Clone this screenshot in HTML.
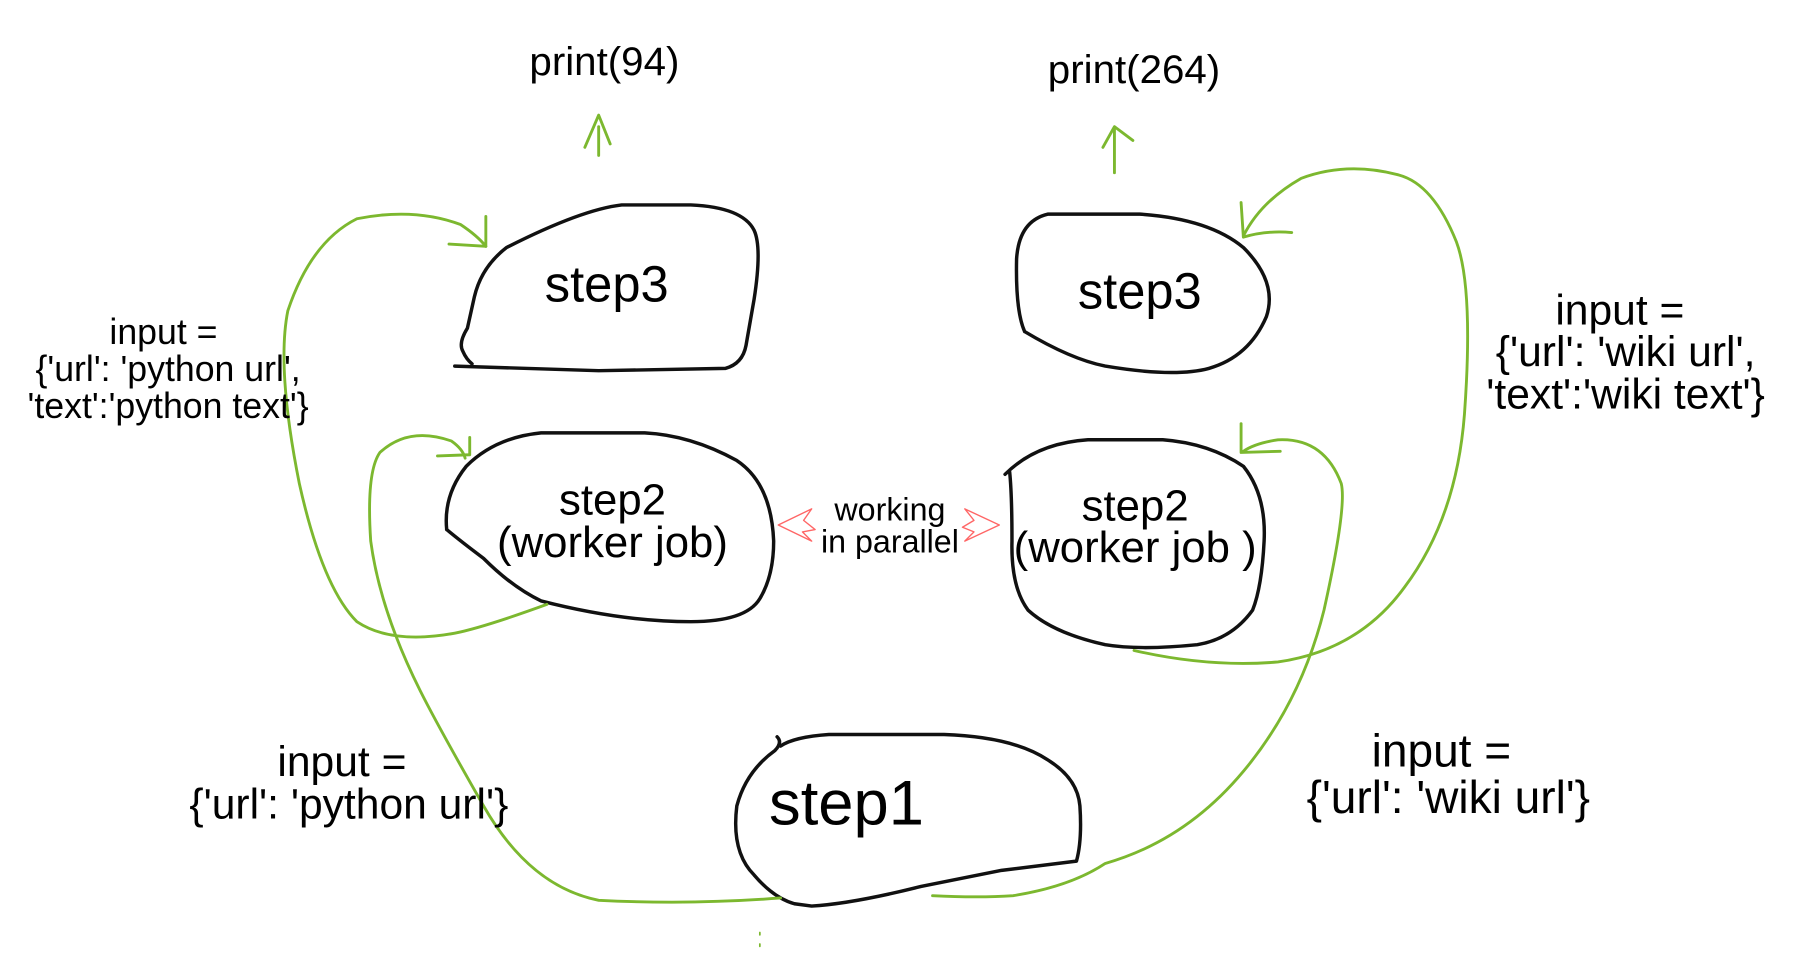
<!DOCTYPE html>
<html><head><meta charset="utf-8"><style>html,body{margin:0;padding:0;background:#fff;}svg{display:block}</style></head>
<body>
<svg width="1796" height="978" viewBox="0 0 1560 849.5" preserveAspectRatio="none" xmlns="http://www.w3.org/2000/svg">
<g fill="none" stroke="#111" stroke-width="3" stroke-linecap="round" stroke-linejoin="round">
<path d="M395,318 L520,322 L630,320 Q645,316 648,300 L655,260 Q662,215 655,200 Q645,180 600,178 L540,178 Q505,182 440,215 Q418,232 412,258 L406,285 Q398,298 402,305 Q405,312 410,316"/>
<path d="M890,288 Q882,270 883,225 Q885,192 910,186 L990,186 Q1050,190 1080,215 Q1110,245 1100,275 Q1085,310 1050,320 Q1020,328 960,318 Q930,312 890,288"/>
<path d="M388,460 Q385,430 405,405 Q430,380 470,376 L560,376 Q600,378 640,400 Q670,420 672,470 Q672,500 660,520 Q648,540 600,540 Q540,540 470,522 Q445,510 420,485 Q400,470 388,460"/>
<path d="M873,412 Q900,385 945,382 L1010,382 Q1050,385 1080,405 Q1100,430 1098,470 Q1096,510 1088,530 Q1070,555 1040,560 Q990,565 960,560 Q915,550 893,530 Q878,510 879,470 Q879,430 877,410"/>
<path d="M675,640 Q680,645 673,652 Q648,670 640,700 Q635,740 655,760 Q672,780 690,785 L705,787 Q740,785 800,770 L870,756 L935,748 Q940,730 938,700 Q936,676 910,660 Q880,640 820,638 L720,638 Q690,640 678,648"/>
</g>
<g fill="none" stroke="#7cb82f" stroke-width="2.5" stroke-linecap="round" stroke-linejoin="round">
<path d="M520,135 L520,110 M508,128 L520,100 L530,125"/>
<path d="M968,150 L968,112 M958,128 L968,110 L984,122"/>
<path d="M475,525 Q420,545 395,550 Q340,560 310,540 Q280,510 260,420 Q240,320 250,270 Q270,210 310,190 Q360,180 400,195 Q415,205 422,214"/>
<path d="M422,188 L422,214 L390,212"/>
<path d="M678,780 Q600,786 520,782 Q460,770 420,700 Q380,630 365,600 Q330,530 322,470 Q318,410 330,393 Q355,370 392,383 Q402,390 404,398"/>
<path d="M408,380 L408,395 L380,396"/>
<path d="M810,778 Q850,780 880,778 Q930,770 960,750 Q1030,730 1080,670 Q1130,610 1150,530 Q1170,440 1165,420 Q1150,380 1110,382 Q1090,385 1080,392"/>
<path d="M1078,368 L1078,393 L1112,392"/>
<path d="M985,565 Q1050,580 1110,575 Q1180,565 1220,510 Q1265,450 1272,360 Q1280,250 1265,210 Q1245,160 1215,152 Q1170,140 1130,155 Q1095,175 1080,205"/>
<path d="M1078,176 L1080,206 Q1100,200 1122,202"/>
<path d="M660,810 L660,812 M660,820 L660,822" stroke-width="1.5"/>
</g>
<g fill="none" stroke="#ff6666" stroke-width="1.2" stroke-linejoin="round">
<path d="M676,456 L705,442 L698,452 L708,460 L697,462 L705,470 Z"/>
<path d="M868,456 L838,442 L846,452 L836,458 L846,462 L838,470 Z"/>
</g>
<g font-family="'Liberation Sans', Arial, sans-serif" fill="#000" text-anchor="middle">
<text x="525" y="65" font-size="35">print(94)</text>
<text x="985" y="72" font-size="35">print(264)</text>
<text x="527" y="262" font-size="44">step3</text>
<text x="990" y="268" font-size="44">step3</text>
<text x="532" y="447" font-size="38">step2</text>
<text x="532" y="484" font-size="38">(worker job)</text>
<text x="986" y="452" font-size="38">step2</text>
<text x="986" y="488" font-size="38">(worker job )</text>
<text x="773" y="452" font-size="28">working</text>
<text x="773" y="480" font-size="28">in parallel</text>
<text x="668" y="716" font-size="55" text-anchor="start">step1</text>
<text x="142" y="299" font-size="31">input =</text>
<text x="146" y="331" font-size="31">{'url': 'python url',</text>
<text x="146" y="363" font-size="31">'text':'python text'}</text>
<text x="297" y="674" font-size="37">input =</text>
<text x="303" y="711" font-size="37">{'url': 'python url'}</text>
<text x="1407" y="282" font-size="37">input =</text>
<text x="1412" y="318" font-size="37">{'url': 'wiki url',</text>
<text x="1412" y="355" font-size="37">'text':'wiki text'}</text>
<text x="1252" y="666" font-size="40">input =</text>
<text x="1258" y="706" font-size="40">{'url': 'wiki url'}</text>
</g>
</svg>
</body></html>
